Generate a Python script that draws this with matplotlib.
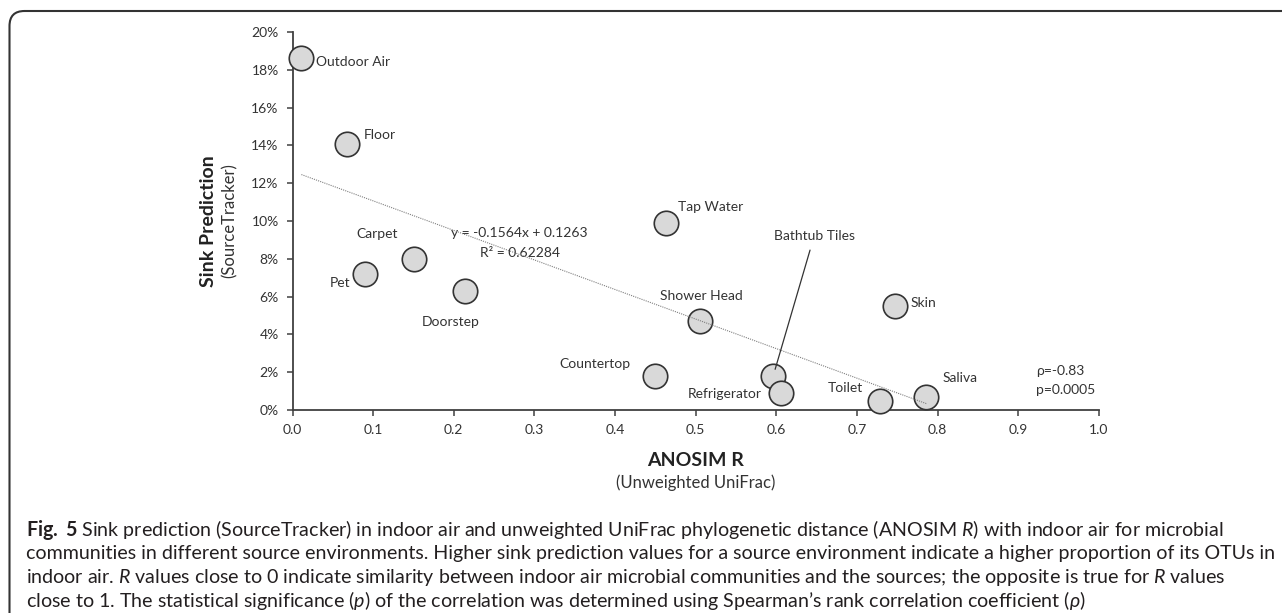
import numpy as np
import matplotlib
matplotlib.use("Agg")
import matplotlib.pyplot as plt
from matplotlib.patches import FancyBboxPatch

plt.rcParams['font.family'] = ['Lato', 'DejaVu Sans']
plt.rcParams['mathtext.fontset'] = 'custom'
plt.rcParams['mathtext.rm'] = 'Lato'
plt.rcParams['mathtext.it'] = 'Lato:italic'
plt.rcParams['mathtext.bf'] = 'Lato:bold'

# data
sources = ["Outdoor Air", "Floor", "Carpet", "Pet", "Doorstep", "Tap Water",
           "Shower Head", "Skin", "Countertop", "Bathtub Tiles", "Refrigerator",
           "Toilet", "Saliva"]
anosim_r = [0.011, 0.067, 0.151, 0.090, 0.214, 0.463, 0.505, 0.747, 0.449,
            0.596, 0.606, 0.728, 0.786]
sink_pred = [0.186, 0.141, 0.080, 0.072, 0.063, 0.099, 0.047, 0.055, 0.018,
             0.018, 0.009, 0.0047, 0.007]
slope = -0.1564
intercept = 0.1263
r2 = 0.62284
rho = -0.83
pval = 0.0005

x_ticks = np.arange(0, 1.01, 0.1)
y_ticks = np.arange(0, 0.201, 0.02)

# label placement (offset in pixels, horizontal alignment)
label_pos = {
    "Outdoor Air": (15, -4, 'left'),
    "Floor": (17, 9, 'left'),
    "Carpet": (-37, 25, 'center'),
    "Pet": (-15, -9, 'right'),
    "Doorstep": (-14, -31, 'center'),
    "Tap Water": (12, 16, 'left'),
    "Shower Head": (2, 25, 'center'),
    "Skin": (16, 3, 'left'),
    "Countertop": (-60, 12, 'center'),
    "Bathtub Tiles": (41, 140, 'center'),
    "Refrigerator": (-19, -1, 'right'),
    "Toilet": (-34, 13, 'center'),
    "Saliva": (34, 19, 'center'),
}

caption = [
    r"$\mathbf{Fig.}$ $\mathbf{5}$ Sink prediction (SourceTracker) in indoor air and unweighted UniFrac phylogenetic distance (ANOSIM $\mathit{R}$) with indoor air for microbial",
    "communities in different source environments. Higher sink prediction values for a source environment indicate a higher proportion of its OTUs in",
    r"indoor air. $\mathit{R}$ values close to 0 indicate similarity between indoor air microbial communities and the sources; the opposite is true for $\mathit{R}$ values",
    r"close to 1. The statistical significance ($\mathit{p}$) of the correlation was determined using Spearman’s rank correlation coefficient ($\mathit{\rho}$)",
]

W, H = 1282, 613
fig = plt.figure(figsize=(W / 100, H / 100), dpi=100)
ax = fig.add_axes([292.5 / W, 1 - 410 / H, 806.5 / W, 378 / H])

txt = '#333333'
ax.scatter(anosim_r, sink_pred, s=310, c='#d9d9d9', edgecolors='#333333',
           linewidths=1.2, zorder=3, clip_on=False)

xs = np.array([min(anosim_r), max(anosim_r)])
ax.plot(xs, slope * xs + intercept, color='#808080', lw=0.8, ls=(0, (1, 1)),
        zorder=4)

k = 0.72
for name, xv, yv in zip(sources, anosim_r, sink_pred):
    dx, dy, ha = label_pos[name]
    if name == "Bathtub Tiles":
        ax.annotate(name, (xv, yv), xytext=(dx * k, dy * k), textcoords='offset points',
                    ha=ha, va='center', fontsize=10, color=txt, zorder=5,
                    arrowprops=dict(arrowstyle='-', color='#333333', lw=0.9,
                                    shrinkA=4, shrinkB=5))
    else:
        ax.annotate(name, (xv, yv), xytext=(dx * k, dy * k), textcoords='offset points',
                    ha=ha, va='center', fontsize=10, color=txt)

ax.text(0.2815, 0.0935, "y = %.4fx + %.4f" % (slope, intercept), ha='center',
        va='center', fontsize=10, color=txt)
ax.text(0.2815, 0.0832, "R² = %.5f" % r2, ha='center', va='center',
        fontsize=10, color=txt)
ax.text(0.922, 0.0208, "ρ=%.2f" % rho, ha='left', va='center', fontsize=10,
        color=txt)
ax.text(0.922, 0.0106, "p=%.4f" % pval, ha='left', va='center', fontsize=10,
        color=txt)

ax.set_xlim(0, 1)
ax.set_ylim(0, 0.2)
ax.set_xticks(x_ticks)
ax.set_xticklabels(["%.1f" % v for v in x_ticks])
ax.set_yticks(y_ticks)
ax.set_yticklabels(["%d%%" % round(v * 100) for v in y_ticks])
for s in ['top', 'right']:
    ax.spines[s].set_visible(False)
for s in ['left', 'bottom']:
    ax.spines[s].set_color('#404040')
    ax.spines[s].set_linewidth(1.3)
ax.tick_params(direction='out', length=4, width=1.1, color='#404040',
               labelsize=10, labelcolor=txt)
ax.tick_params(axis='x', pad=6)
ax.tick_params(axis='y', pad=6)

fig.text(208.5 / W, 1 - 221 / H, "Sink Prediction", rotation=90, ha='center',
         va='center', fontsize=14, fontweight='bold', color='#222222')
fig.text(230 / W, 1 - 221 / H, "(SourceTracker)", rotation=90, ha='center',
         va='center', fontsize=12, color=txt)
fig.text(695.7 / W, 1 - 460 / H, "ANOSIM R", ha='center', va='center',
         fontsize=14, fontweight='bold', color='#222222')
fig.text(695.7 / W, 1 - 483 / H, "(Unweighted UniFrac)", ha='center',
         va='center', fontsize=12, color=txt)

for i, line in enumerate(caption):
    fig.text(26 / W, 1 - (536 + 23.5 * i) / H, line, ha='left', va='baseline',
             fontsize=14.1, color='#231f20')

frame = FancyBboxPatch((0.095, -1), 14, 6.13 - 0.11 + 1,
                       boxstyle='round,pad=0,rounding_size=0.15',
                       transform=fig.dpi_scale_trans, fill=False,
                       edgecolor='#333333', lw=1.5)
fig.patches.append(frame)

fig.savefig("out.png", dpi=100)
